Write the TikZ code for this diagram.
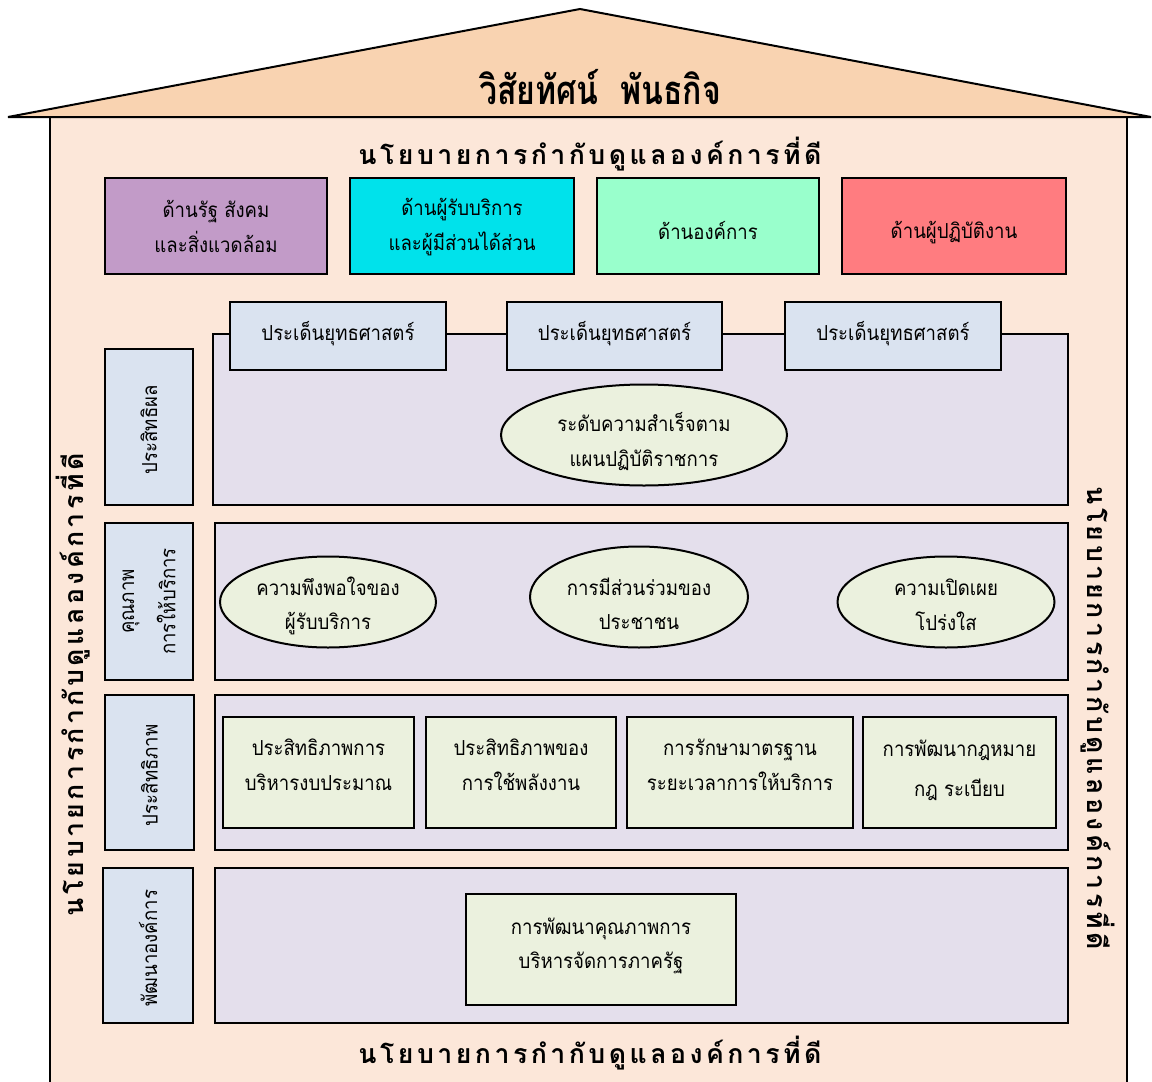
\documentclass[tikz,border=0pt]{standalone}
\usepackage{fontspec}
\setmainfont[Script=Thai,FakeStretch=0.9]{Loma}
\newfontfamily\titlefont[Script=Thai,FakeStretch=0.8]{Loma}
\newfontfamily\spacedfont[Script=Thai,LetterSpace=13]{Loma}
\usetikzlibrary{shapes.geometric,fit}
\definecolor{roofc}{HTML}{F9D3B1}
\definecolor{housec}{HTML}{FCE7D9}
\definecolor{purplec}{HTML}{C29BC8}
\definecolor{cyanc}{HTML}{00E2EB}
\definecolor{greenc}{HTML}{99FFCC}
\definecolor{redc}{HTML}{FF7C80}
\definecolor{bluec}{HTML}{DAE3F0}
\definecolor{panelc}{HTML}{E4DFEC}
\definecolor{lgreenc}{HTML}{EBF1DE}
\tikzset{
  every node/.style={font=\fontsize{15.5pt}{26pt}\selectfont, align=center},
  ln/.style={draw=black, line width=1.5pt},
  box/.style={ln, rectangle, inner sep=0pt},
  topbox/.style={box},
  labelbox/.style={box, fill=bluec},
  panel/.style={box, fill=panelc},
  issue/.style={box, fill=bluec},
  item/.style={box, fill=lgreenc},
  oval/.style={ln, ellipse, fill=lgreenc, inner sep=0pt},
  big/.style={font=\spacedfont\bfseries\fontsize{20pt}{24pt}\selectfont},
}
\newcommand\boxtext[3]{\node[yshift=#2] (#1-t) at (#1.center) {#3};}
\begin{document}
\begin{tikzpicture}[x=0.75pt,y=-0.75pt]
\useasboundingbox (0,0) rectangle (1152,1081);
\clip (0,0) rectangle (1152,1081);
% house body
\draw[ln, fill=housec] (50,117) rectangle (1127,1090);
% roof
\draw[ln, fill=roofc, line join=miter] (8,117) -- (580,9) -- (1151,117) -- cycle;
\node[font=\titlefont\bfseries\fontsize{30pt}{34pt}\selectfont] (title) at (600,87) {วิสัยทัศน์ \ พันธกิจ};
% policy labels
\node[big] (ptop) at (590,154) {นโยบายการกำกับดูแลองค์การที่ดี};
\node[big] (pbot) at (590,1053) {นโยบายการกำกับดูแลองค์การที่ดี};
\node[big, rotate=90] (pleft) at (73,685) {นโยบายการกำกับดูแลองค์การที่ดี};
\node[big, rotate=-90] (pright) at (1098,718) {นโยบายการกำกับดูแลองค์การที่ดี};
% top boxes
\node[topbox, fill=purplec, fit={(105,178)(327,274)}] (d1) {};
\boxtext{d1}{-0.5pt}{ด้านรัฐ สังคม\\และสิ่งแวดล้อม}
\node[topbox, fill=cyanc, fit={(350,178)(574,274)}] (d2) {};
\boxtext{d2}{-1pt}{ด้านผู้รับบริการ\\และผู้มีส่วนได้ส่วน}
\node[topbox, fill=greenc, fit={(597,178)(819,274)}] (d3) {};
\boxtext{d3}{-3pt}{ด้านองค์การ}
\node[topbox, fill=redc, fit={(842,178)(1066,274)}] (d4) {};
\boxtext{d4}{-5.25pt}{ด้านผู้ปฏิบัติงาน}
% panels
\node[panel, fit={(213,334)(1068,505)}] (p1) {};
\node[panel, fit={(215,523)(1068,680)}] (p2) {};
\node[panel, fit={(215,695)(1068,850)}] (p3) {};
\node[panel, fit={(215,868)(1068,1023)}] (p4) {};
% left labels
\node[labelbox, fit={(105,349)(193,505)}] (l1) {};
\node[rotate=90, xshift=-2pt] (l1-t) at (l1.center) {ประสิทธิผล};
\node[labelbox, fit={(105,523)(193,680)}] (l2) {};
\node[rotate=90, font=\fontsize{15.5pt}{31pt}\selectfont] (l2-t) at (l2.center) {คุณภาพ\\การให้บริการ};
\node[labelbox, fit={(105,695)(194,850)}] (l3) {};
\node[rotate=90, xshift=-2pt] (l3-t) at (l3.center) {ประสิทธิภาพ};
\node[labelbox, fit={(103,868)(193,1023)}] (l4) {};
\node[rotate=90, xshift=-2pt] (l4-t) at (l4.center) {พัฒนาองค์การ};
% strategic issues
\node[issue, fit={(230,302)(446,370)}] (s1) {};
\boxtext{s1}{1.5pt}{ประเด็นยุทธศาสตร์}
\node[issue, fit={(507,302)(722,370)}] (s2) {};
\boxtext{s2}{1.5pt}{ประเด็นยุทธศาสตร์}
\node[issue, fit={(785,302)(1001,370)}] (s3) {};
\boxtext{s3}{1.5pt}{ประเด็นยุทธศาสตร์}
% row 1
\node[oval, minimum width=214.5pt, minimum height=75.75pt] (e1) at (644,435) {};
\boxtext{e1}{-5pt}{ระดับความสำเร็จตาม\\แผนปฏิบัติราชการ}
% row 2
\node[oval, minimum width=162pt, minimum height=68.25pt] (e2) at (328,602) {};
\boxtext{e2}{-3pt}{ความพึงพอใจของ\\ผู้รับบริการ}
\node[oval, minimum width=163.5pt, minimum height=75.75pt] (e3) at (639,597) {};
\boxtext{e3}{-5pt}{การมีส่วนร่วมของ\\ประชาชน}
\node[oval, minimum width=162.75pt, minimum height=68.25pt] (e4) at (946,602) {};
\boxtext{e4}{-2pt}{ความเปิดเผย\\โปร่งใส}
% row 3
\node[item, fit={(223,717)(414,828)}] (r1) {};
\boxtext{r1}{6pt}{ประสิทธิภาพการ\\บริหารงบประมาณ}
\node[item, fit={(426,717)(616,828)}] (r2) {};
\boxtext{r2}{6pt}{ประสิทธิภาพของ\\การใช้พลังงาน}
\node[item, fit={(627,717)(853,828)}] (r3) {};
\boxtext{r3}{6pt}{การรักษามาตรฐาน\\ระยะเวลาการให้บริการ}
\node[item, fit={(863,717)(1056,828)}] (r4) {};
\node[yshift=2pt, font=\fontsize{15.5pt}{30pt}\selectfont] (r4-t) at (r4.center) {การพัฒนากฎหมาย\\กฎ ระเบียบ};
% row 4
\node[item, fit={(466,894)(736,1005)}] (q1) {};
\boxtext{q1}{2.6pt}{การพัฒนาคุณภาพการ\\บริหารจัดการภาครัฐ}
\end{tikzpicture}
\end{document}
